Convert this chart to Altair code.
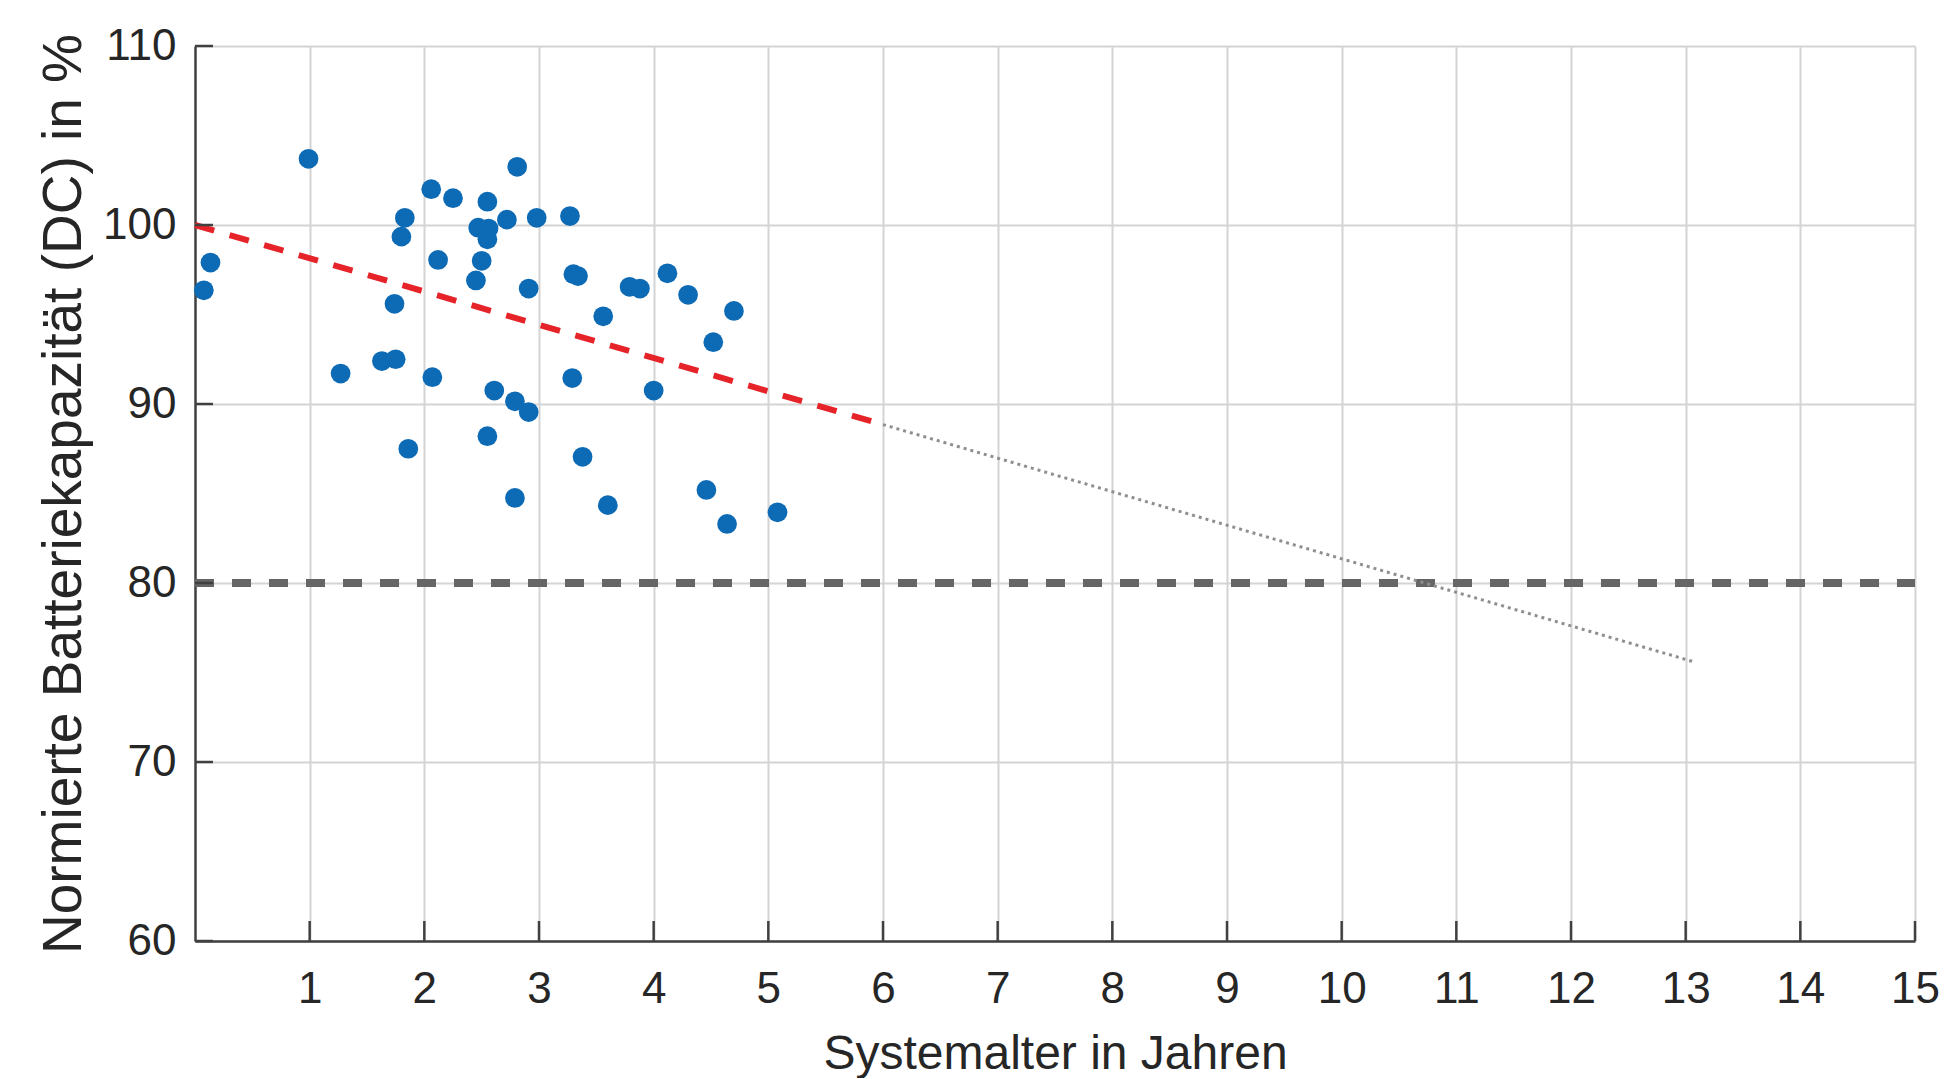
import altair as alt
import pandas as pd

# Scatter data: system age (years) vs. normalised battery capacity (%)
ages = [0.99, 0.135, 0.077, 1.83, 1.80, 1.74, 2.06, 2.25, 2.12, 2.55,
        2.47, 2.56, 2.55, 2.50, 2.45, 2.81, 2.72, 2.98, 3.27, 3.30,
        3.34, 2.91, 3.79, 3.88, 4.12, 4.30, 4.70, 3.56, 1.27, 1.63,
        1.75, 2.07, 1.86, 2.61, 2.79, 2.91, 2.55, 2.79, 3.29, 3.38,
        3.60, 4.00, 4.52, 4.46, 4.64, 5.08]
capacity = [103.7, 97.9, 96.35, 100.4, 99.35, 95.6, 102.0, 101.5, 98.05, 101.3,
            99.85, 99.8, 99.2, 98.0, 96.9, 103.25, 100.3, 100.4, 100.5, 97.25,
            97.15, 96.45, 96.55, 96.45, 97.3, 96.1, 95.2, 94.9, 91.7, 92.4,
            92.5, 91.5, 87.5, 90.75, 90.15, 89.55, 88.2, 84.75, 91.45, 87.05,
            84.35, 90.75, 93.45, 85.2, 83.3, 83.95]

# Trend line (fitted part) and its extrapolation
trend_x = [0, 6]
trend_y = [100, 88.85]
extra_x = [6, 13.07]
extra_y = [88.85, 75.6]

threshold = 80
x_ticks = list(range(1, 16))
y_ticks = [60, 70, 80, 90, 100, 110]

W, H = 1720, 895
FONT = "Liberation Sans"
TXT = "#262626"
AXC = "#404040"

pts = pd.DataFrame({"x": ages, "y": capacity})
trend = pd.DataFrame({"x": trend_x, "y": trend_y})
extra = pd.DataFrame({"x": extra_x, "y": extra_y})
xt = pd.DataFrame({"x": x_ticks})
yt = pd.DataFrame({"y": y_ticks})

xs = alt.Scale(domain=[0, 15], nice=False, zero=False)
ys = alt.Scale(domain=[60, 110], nice=False, zero=False)

x_axis = alt.Axis(values=x_ticks, format="d", title="Systemalter in Jahren", ticks=False,
                  tickSize=0, labelPadding=26, titlePadding=19, labelFontSize=44,
                  titleFontSize=48, grid=True)
y_axis = alt.Axis(values=y_ticks, format="d", title="Normierte Batteriekapazität (DC) in %",
                  ticks=False, tickSize=0, labelPadding=19, titlePadding=10, labelFontSize=44,
                  titleFontSize=55, grid=True)

points = alt.Chart(pts).mark_circle(size=390, opacity=1, color="#0d6ab4").encode(
    x=alt.X("x:Q", scale=xs, axis=x_axis),
    y=alt.Y("y:Q", scale=ys, axis=y_axis),
)

thr = alt.Chart(pts).mark_rule(color="#666666", strokeWidth=6.5, strokeDash=[19, 18]).encode(
    y=alt.Y(datum=threshold, scale=ys),
    x=alt.X(datum=0, scale=xs),
    x2=alt.X2(datum=15),
)

trend_line = alt.Chart(trend).mark_line(color="#e52329", strokeWidth=6, strokeDash=[20, 16]).encode(
    x=alt.X("x:Q", scale=xs), y=alt.Y("y:Q", scale=ys)
)

extra_line = alt.Chart(extra).mark_line(color="#8f8f8f", strokeWidth=3, strokeDash=[3, 4]).encode(
    x=alt.X("x:Q", scale=xs), y=alt.Y("y:Q", scale=ys)
)

ytick_marks = alt.Chart(yt).mark_rule(color=AXC, strokeWidth=2.5).encode(
    y=alt.Y("y:Q", scale=ys), x=alt.value(0), x2=alt.value(18)
)
xtick_marks = alt.Chart(xt).mark_rule(color=AXC, strokeWidth=2.5).encode(
    x=alt.X("x:Q", scale=xs), y=alt.value(H), y2=alt.value(H - 20)
)

chart = alt.layer(points, thr, trend_line, extra_line, ytick_marks, xtick_marks).properties(
    width=W, height=H,
    padding={"left": 28, "top": 16, "right": 0, "bottom": 0},
    background="white",
).configure_view(strokeWidth=0).configure_axis(
    labelFont=FONT, titleFont=FONT, labelColor=TXT, titleColor=TXT,
    titleFontWeight="normal", domainColor=AXC, domainWidth=2.5,
    gridColor="#d4d4d4", gridWidth=2, labelFlush=False,
)

chart.save("out.html", embed_options={"renderer": "svg", "actions": False})
